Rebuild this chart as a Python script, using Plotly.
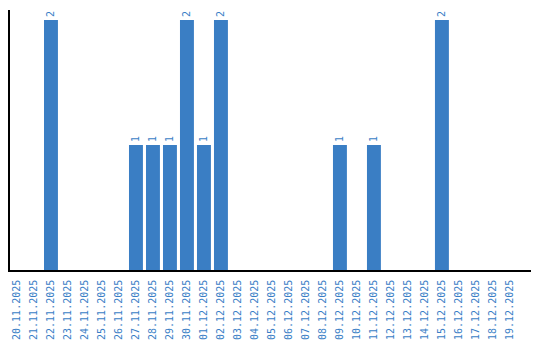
import plotly.graph_objects as go

dates = ["20.11.2025", "21.11.2025", "22.11.2025", "23.11.2025", "24.11.2025",
         "25.11.2025", "26.11.2025", "27.11.2025", "28.11.2025", "29.11.2025",
         "30.11.2025", "01.12.2025", "02.12.2025", "03.12.2025", "04.12.2025",
         "05.12.2025", "06.12.2025", "07.12.2025", "08.12.2025", "09.12.2025",
         "10.12.2025", "11.12.2025", "12.12.2025", "13.12.2025", "14.12.2025",
         "15.12.2025", "16.12.2025", "17.12.2025", "18.12.2025", "19.12.2025"]
counts = [0, 0, 2, 0, 0, 0, 0, 1, 1, 1, 2, 1, 2, 0, 0, 0, 0, 0, 0, 1,
          0, 1, 0, 0, 0, 2, 0, 0, 0, 0]

bar_color = "#3a7ec4"
text_color = "#3a7ec6"
mono = "DejaVu Sans Mono"

xs = list(range(len(dates)))
labels = [str(v) if v > 0 else "" for v in counts]

fig = go.Figure(go.Bar(
    x=xs, y=counts, text=labels, textposition="outside", textangle=-90,
    textfont=dict(family=mono, size=10, color=text_color),
    marker=dict(color=bar_color, line=dict(width=0)),
    cliponaxis=False, hoverinfo="skip",
))

fig.update_layout(
    width=540, height=340,
    margin=dict(l=10, r=9, t=10, b=70),
    paper_bgcolor="white", plot_bgcolor="white",
    bargap=0.18, showlegend=False,
    font=dict(family=mono, size=10, color=text_color),
    uniformtext=dict(minsize=10, mode="show"),
)
fig.update_xaxes(
    tickmode="array", tickvals=xs, ticktext=dates, tickangle=-90,
    range=[-0.41, 30.24], showline=True, linecolor="black", linewidth=1.5,
    showgrid=False, zeroline=False, ticks="", ticklabelstandoff=4,
    automargin=False,
    tickfont=dict(family=mono, size=10, color=text_color),
)
fig.update_yaxes(
    range=[0, 2.08], showline=True, linecolor="black", linewidth=1.5,
    showgrid=False, zeroline=False, showticklabels=False, ticks="",
    automargin=False,
)

fig.write_html("out.html")
